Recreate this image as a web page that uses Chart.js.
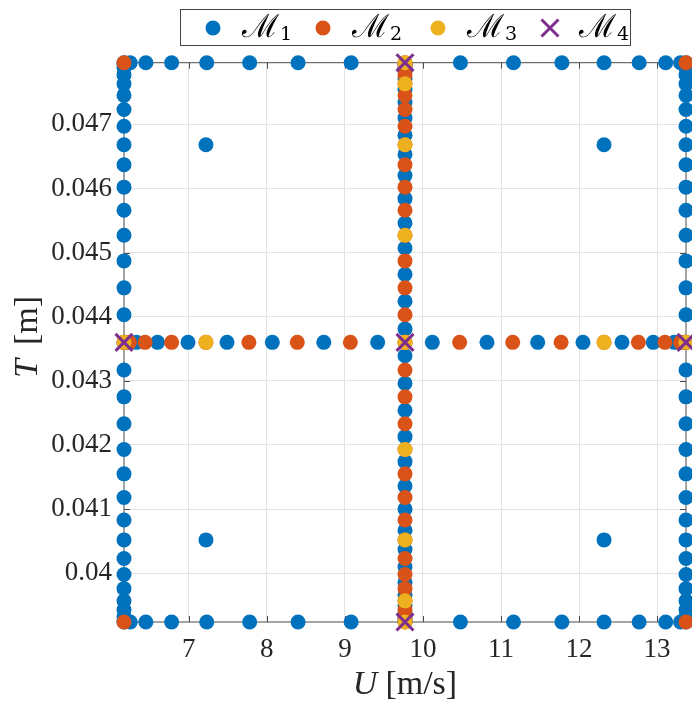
<!DOCTYPE html>
<html>
<head>
<meta charset="utf-8">
<script src="https://cdn.jsdelivr.net/npm/chart.js@4.4.0/dist/chart.umd.min.js"></script>
<style>
  html, body { margin: 0; padding: 0; background: #fff; }
</style>
</head>
<body>
<canvas id="chart" width="692" height="703"></canvas>
<script>
// axis limits and the centre lines of the grid
const uMin = 6.17, uMid = 9.77, uMax = 13.37;
const tMin = 0.03924, tMid = 0.0436, tMax = 0.04796;

const xTicks = [7, 8, 9, 10, 11, 12, 13];
const yTicks = [0.04, 0.041, 0.042, 0.043, 0.044, 0.045, 0.046, 0.047];

// T levels on the side columns (M1) and on the centre column (M2)
const tSide = [0.04796, 0.04794, 0.04788, 0.04777, 0.04763, 0.04745, 0.04723, 0.04697, 0.04668,
  0.04637, 0.04602, 0.04566, 0.04527, 0.04487, 0.04445, 0.04403, 0.04360, 0.04317, 0.04275,
  0.04233, 0.04193, 0.04155, 0.04118, 0.04083, 0.04052, 0.04023, 0.03998, 0.03976, 0.03957,
  0.03943, 0.03932, 0.03926, 0.03924];
// T levels in between on the centre column (M1)
const tCenterOdd = [0.04795, 0.04791, 0.04783, 0.04771, 0.04754, 0.04734, 0.04710, 0.04683,
  0.04653, 0.04620, 0.04584, 0.04546, 0.04507, 0.04466, 0.04424, 0.04381, 0.04339, 0.04296,
  0.04254, 0.04213, 0.04174, 0.04136, 0.04100, 0.04067, 0.04037, 0.04010, 0.03986, 0.03966,
  0.03950, 0.03937, 0.03929, 0.03925];
// U levels on the top and bottom edges (M1)
const uEdge = [6.25, 6.45, 6.78, 7.23, 7.78, 8.40, 9.08, 10.48, 11.16, 11.78, 12.32, 12.77, 13.11, 13.30];
// U levels on the middle row
const uMidOdd = [6.19, 6.33, 6.60, 6.99, 7.49, 8.07, 8.73, 9.42, 10.12, 10.82, 11.47, 12.05, 12.55, 12.95, 13.22, 13.35];
const uMidEven = [6.17, 6.24, 6.44, 6.78, 7.22, 7.77, 8.39, 9.07, 9.77, 10.47, 11.15, 11.77, 12.32, 12.76, 13.10, 13.30, 13.37];
// four inner M1 points
const innerU = [7.22, 12.32, 7.22, 12.32];
const innerT = [0.04668, 0.04668, 0.04052, 0.04052];
// M2 corners
const cornerU = [uMin, uMax, uMin, uMax];
const cornerT = [tMin, tMin, tMax, tMax];
// M3
const m3ColT = [0.04796, 0.04763, 0.04668, 0.04527, 0.04360, 0.04193, 0.04052, 0.03957, 0.03924];
const m3RowU = [6.17, 7.22, 9.77, 12.32, 13.37];
// M4
const m4U = [uMid, uMid, uMid, uMin, uMax];
const m4T = [tMid, tMax, tMin, tMid, tMid];

const labels = ['ℳ1', 'ℳ2', 'ℳ3', 'ℳ4'];
const colors = ['#0072BD', '#D95319', '#EDB120', '#7E2F8E'];

const pts = (us, ts) => us.map((u, i) => ({ x: u, y: ts[i] }));
const row = (us, t) => us.map(u => ({ x: u, y: t }));
const col = (u, ts) => ts.map(t => ({ x: u, y: t }));

const m1 = [...col(uMin, tSide), ...col(uMax, tSide), ...row(uEdge, tMin), ...row(uEdge, tMax),
  ...row(uMidOdd, tMid), ...col(uMid, tCenterOdd), ...pts(innerU, innerT)];
const m2 = [...pts(cornerU, cornerT), ...row(uMidEven, tMid), ...col(uMid, tSide)];
const m3 = [...col(uMid, m3ColT), ...row(m3RowU, tMid)];
const m4 = pts(m4U, m4T);

const serif = '"Liberation Serif", "DejaVu Serif", serif';
const legendX = [213, 323, 438, 550];

// draws a title made of an italic symbol and an upright unit
function mathTitle(ctx, sym, unit, cx, y, gap) {
  ctx.font = 'italic 34px ' + serif;
  const w1 = ctx.measureText(sym).width;
  ctx.font = '34px ' + serif;
  const w2 = ctx.measureText(unit).width;
  const x = cx - (w1 + gap + w2) / 2;
  ctx.font = 'italic 34px ' + serif;
  ctx.fillText(sym, x, y);
  ctx.font = '34px ' + serif;
  ctx.fillText(unit, x + w1 + gap, y);
}

// box, grid frame and inward ticks like the original axes
const framePlugin = {
  id: 'frame',
  beforeDatasetsDraw(chart) {
    const { ctx, chartArea: a, scales } = chart;
    ctx.save();
    ctx.strokeStyle = '#4a4a4a';
    ctx.lineWidth = 1;
    ctx.strokeRect(a.left, a.top, a.right - a.left, a.bottom - a.top);
    ctx.beginPath();
    scales.x.ticks.forEach(t => {
      const x = Math.round(scales.x.getPixelForValue(t.value)) + 0.5;
      ctx.moveTo(x, a.bottom); ctx.lineTo(x, a.bottom - 6);
      ctx.moveTo(x, a.top); ctx.lineTo(x, a.top + 6);
    });
    scales.y.ticks.forEach(t => {
      const y = Math.round(scales.y.getPixelForValue(t.value)) + 0.5;
      ctx.moveTo(a.left, y); ctx.lineTo(a.left + 6, y);
      ctx.moveTo(a.right, y); ctx.lineTo(a.right - 6, y);
    });
    ctx.stroke();
    ctx.restore();
  },
  afterDraw(chart) {
    const { ctx } = chart;
    ctx.save();
    ctx.fillStyle = '#262626';
    ctx.textBaseline = 'alphabetic';
    mathTitle(ctx, 'U', '[m/s]', 405, 694, 8);
    ctx.save();
    ctx.translate(37, 337);
    ctx.rotate(-Math.PI / 2);
    mathTitle(ctx, 'T', '[m]', 0, 0, 14);
    ctx.restore();

    // legend
    const cy = 28;
    chart.data.datasets.forEach((ds, i) => {
      const mx = legendX[i];
      ctx.fillStyle = ds.pointBackgroundColor;
      ctx.strokeStyle = ds.pointBorderColor || ds.pointBackgroundColor;
      Chart.helpers.drawPoint(ctx, {
        pointStyle: ds.pointStyle,
        radius: ds.pointStyle === 'crossRot' ? 12 : 7.5,
        borderWidth: ds.pointBorderWidth,
        rotation: 0
      }, mx, cy);
      ctx.fillStyle = '#000';
      const tx = mx + 29;
      ctx.font = '32px "DejaVu Serif", serif';
      ctx.fillText(ds.label[0], tx, 37);
      const w1 = ctx.measureText(ds.label[0]).width;
      ctx.font = '19px "DejaVu Serif", serif';
      ctx.fillText(ds.label.slice(1), tx + w1 + 1, 40);
    });
    ctx.strokeStyle = '#444';
    ctx.lineWidth = 1;
    ctx.strokeRect(180.5, 9.5, 450, 36);
    ctx.restore();
  }
};

const dot = (label, data, color, order) => ({
  label, data, order,
  pointStyle: 'circle',
  pointRadius: 7.5,
  pointBorderWidth: 0,
  pointBackgroundColor: color,
  backgroundColor: color,
  showLine: false,
  clip: false
});

new Chart(document.getElementById('chart'), {
  type: 'scatter',
  data: {
    datasets: [
      dot(labels[0], m1, colors[0], 4),
      dot(labels[1], m2, colors[1], 3),
      dot(labels[2], m3, colors[2], 2),
      {
        label: labels[3], data: m4, order: 1,
        pointStyle: 'crossRot',
        pointRadius: 12,
        pointBorderWidth: 3,
        pointBorderColor: colors[3],
        pointBackgroundColor: colors[3],
        borderColor: colors[3],
        showLine: false,
        clip: false
      }
    ]
  },
  options: {
    responsive: false,
    devicePixelRatio: 1,
    animation: false,
    events: [],
    layout: { autoPadding: false, padding: { top: 62.7, right: 6, left: 0, bottom: 0 } },
    plugins: { legend: { display: false }, tooltip: { enabled: false } },
    scales: {
      x: {
        type: 'linear',
        min: uMin, max: uMax,
        afterBuildTicks: s => { s.ticks = xTicks.map(v => ({ value: v })); },
        afterFit: s => { s.height = 81; s.paddingLeft = 0; s.paddingRight = 0; },
        grid: { color: '#e3e3e3', drawTicks: false },
        border: { display: false },
        ticks: { color: '#262626', padding: 12, font: { family: serif, size: 27 }, maxRotation: 0 }
      },
      y: {
        type: 'linear',
        min: tMin, max: tMax,
        afterBuildTicks: s => { s.ticks = yTicks.map(v => ({ value: v })); },
        afterFit: s => { s.width = 124; s.paddingTop = 0; s.paddingBottom = 0; },
        grid: { color: '#e3e3e3', drawTicks: false },
        border: { display: false },
        ticks: {
          color: '#262626', padding: 12, font: { family: serif, size: 27 },
          callback: v => String(+v.toFixed(3))
        }
      }
    }
  },
  plugins: [framePlugin]
});
</script>
</body>
</html>
